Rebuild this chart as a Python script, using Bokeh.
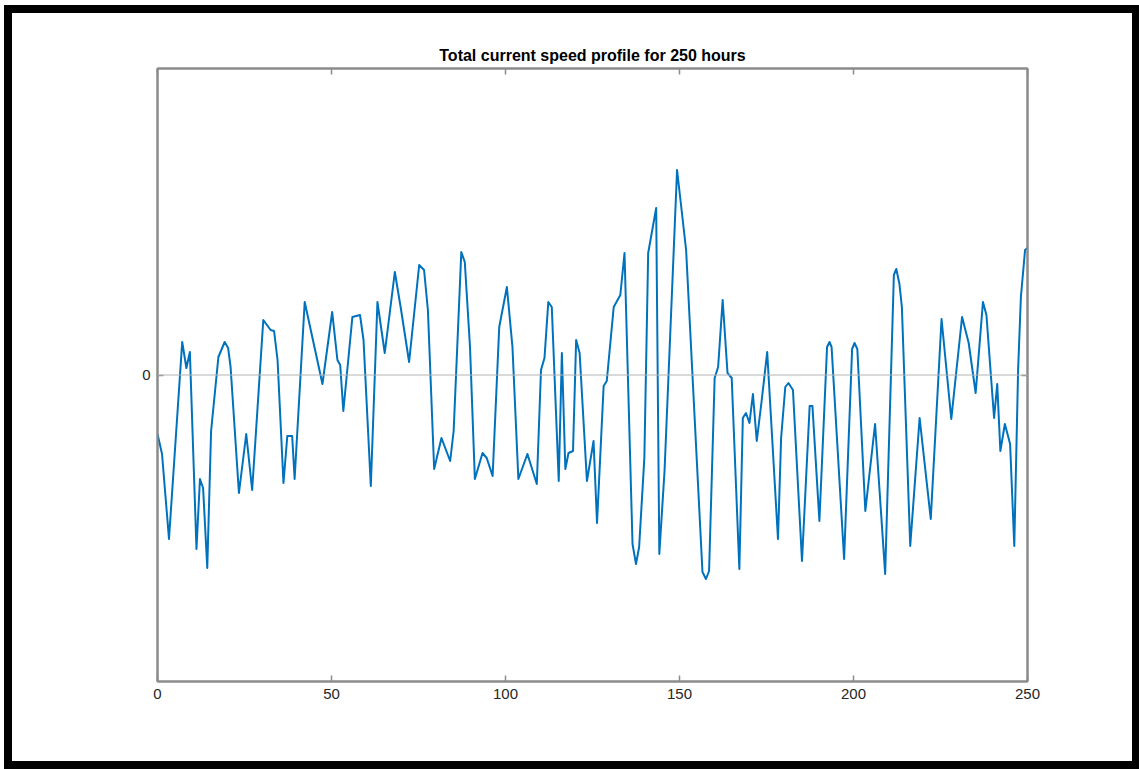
from bokeh.plotting import figure
from bokeh.models import FixedTicker, LinearAxis, Span, Range1d
from bokeh.layouts import column
from bokeh.embed import file_html
from bokeh.resources import INLINE

# hours and total current speed (arbitrary units)
hours = [0, 1.3, 3.3, 7.1, 8.3, 9.3, 11.2, 12.2, 13.1, 14.3, 15.4, 17.5, 19.3, 20.3, 21.0, 23.4, 25.5,
         27.2, 30.4, 32.5, 33.5, 34.5, 36.2, 37.3, 38.7, 39.4, 42.3, 47.4, 50.2, 51.7, 52.5,
         53.4, 56.0, 58.2, 59.2, 61.3, 63.2, 65.3, 68.2, 70.0, 72.3, 75.2, 76.6, 77.7, 79.5,
         81.6, 84.1, 85.1, 87.3, 88.3, 89.8, 91.2, 93.4, 94.6, 96.3, 98.2, 100.4, 102.0, 103.7,
         106.3, 109.0, 110.2, 111.2, 112.3, 113.3, 115.3, 116.2, 117.2, 118.1, 119.4, 120.3,
         121.3, 123.4, 125.3, 126.3, 128.2, 129.1, 131.1, 133.0, 134.2, 136.5, 137.5, 138.4,
         139.9, 141.0, 143.3, 144.2, 145.7, 149.3, 151.9, 156.6, 157.6, 158.5, 160.1, 161.1,
         162.4, 163.8, 165.0, 167.2, 168.2, 169.1, 170.1, 171.1, 172.2, 173.6, 175.2, 178.3,
         179.2, 180.4, 181.3, 182.6, 185.2, 187.4, 188.2, 190.2, 192.4, 193.1, 193.7, 197.3,
         199.6, 200.3, 201.1, 203.4, 206.2, 209.1, 211.6, 212.3, 213.2, 213.9, 216.3, 219.0,
         222.2, 225.3, 228.1, 231.2, 233.1, 235.1, 237.2, 238.2, 239.6, 240.4, 241.3, 242.2,
         243.5, 245.0, 246.2, 247.3, 248.1, 249.3, 250]
speed = [-0.59, -0.79, -1.64, 0.33, 0.07, 0.23, -1.74, -1.04, -1.13, -1.93, -0.56, 0.18, 0.33,
         0.27, 0.08, -1.18, -0.59, -1.15, 0.55, 0.45, 0.44, 0.15, -1.08, -0.61, -0.61, -1.04,
         0.73, -0.09, 0.63, 0.15, 0.10, -0.36, 0.58, 0.60, 0.35, -1.11, 0.73, 0.22, 1.03, 0.65,
         0.13, 1.10, 1.05, 0.65, -0.94, -0.63, -0.86, -0.56, 1.23, 1.13, 0.28, -1.04, -0.78,
         -0.83, -1.01, 0.48, 0.88, 0.28, -1.04, -0.79, -1.09, 0.05, 0.17, 0.73, 0.68, -1.06,
         0.22, -0.94, -0.78, -0.76, 0.35, 0.22, -1.06, -0.66, -1.48, -0.11, -0.06, 0.68, 0.80,
         1.22, -1.69, -1.89, -1.72, -0.83, 1.22, 1.67, -1.79, -0.96, 2.05, 1.25, -1.97, -2.04,
         -1.96, -0.03, 0.08, 0.75, 0.02, -0.03, -1.94, -0.43, -0.38, -0.48, -0.19, -0.66,
         -0.26, 0.23, -1.64, -0.63, -0.12, -0.08, -0.15, -1.86, -0.31, -0.31, -1.46, 0.28,
         0.33, 0.28, -1.84, 0.26, 0.32, 0.26, -1.36, -0.49, -1.99, 1.00, 1.06, 0.91, 0.68,
         -1.71, -0.43, -1.44, 0.56, -0.44, 0.58, 0.32, -0.18, 0.73, 0.60, -0.06, -0.43, -0.09,
         -0.76, -0.49, -0.69, -1.71, 0.05, 0.78, 1.25, 1.27]

x_ticks = [0, 50, 100, 150, 200, 250]
y_ticks = [0]
title_text = "Total current speed profile for 250 hours"

AX = "#8c8c8c"
LBL = "#262626"
FONT = "Liberation Sans"

p = figure(width=1120, height=748, output_backend="svg", toolbar_location=None,
           x_range=Range1d(0, 250), y_range=Range1d(-3.065, 3.065),
           min_border_left=145, min_border_right=105, min_border_top=55, min_border_bottom=80,
           x_axis_location=None, y_axis_location=None)
p.grid.visible = False
p.background_fill_color = "white"
p.border_fill_color = "white"
p.outline_line_color = AX
p.outline_line_width = 2

def mk_axis(ticks, labels):
    a = LinearAxis(ticker=FixedTicker(ticks=ticks))
    a.axis_line_color = AX
    a.axis_line_width = 2
    a.major_tick_line_color = AX
    a.major_tick_line_width = 1.5
    a.major_tick_in = 6
    a.major_tick_out = 0
    a.minor_tick_line_color = None
    a.major_label_text_font = FONT
    a.major_label_text_font_size = "15px"
    a.major_label_text_color = LBL if labels else None
    if not labels:
        a.major_label_text_font_size = "0px"
        a.major_label_standoff = 0
    else:
        a.major_label_standoff = 7
    return a

p.add_layout(mk_axis(x_ticks, True), "below")
p.add_layout(mk_axis(y_ticks, True), "left")
p.add_layout(mk_axis(x_ticks, False), "above")
p.add_layout(mk_axis(y_ticks, False), "right")

p.add_layout(Span(location=0, dimension="width", line_color="#b4b4b4", line_width=1))

p.line(hours, speed, line_color="#0072BD", line_width=2, line_join="round")

p.title.text = title_text
p.title.align = "center"
p.title.text_font = FONT
p.title.text_font_size = "16px"
p.title.text_font_style = "bold"
p.title.text_color = "black"

layout = column(p, styles={"border": "8px solid black", "margin-left": "4px",
                           "margin-top": "5px", "box-sizing": "content-box"})

open("out.html", "w").write(file_html(layout, INLINE))
